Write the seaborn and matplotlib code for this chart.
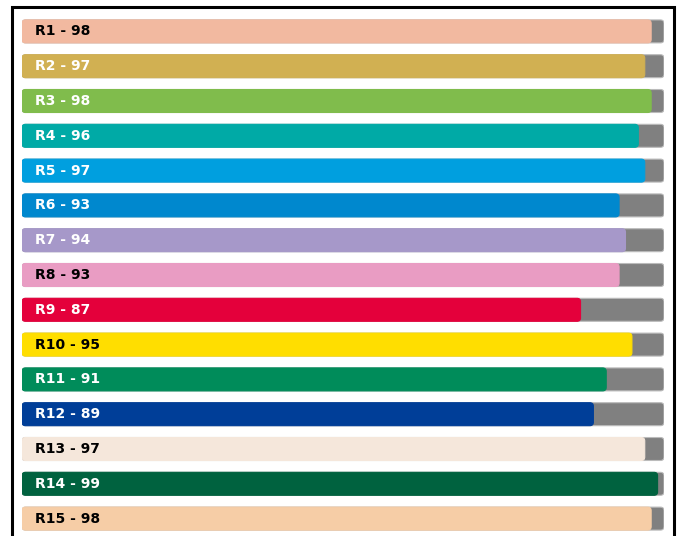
import matplotlib
matplotlib.use("Agg")
import matplotlib.pyplot as plt
from matplotlib.patches import FancyBboxPatch, Rectangle
import seaborn as sns
import pandas as pd

# data
regions = ['R1', 'R2', 'R3', 'R4', 'R5', 'R6', 'R7', 'R8', 'R9', 'R10',
           'R11', 'R12', 'R13', 'R14', 'R15']
scores = [98, 97, 98, 96, 97, 93, 94, 93, 87, 95, 91, 89, 97, 99, 98]
full = [100] * len(regions)
bar_colors = ['#F2B9A0', '#D1B052', '#80BC4C', '#00AAA6', '#009FDF', '#0088CE',
              '#A698C9', '#E99CC3', '#E4003B', '#FFDE00', '#008C5A', '#003E98',
              '#F5E7DB', '#00623F', '#F6CDA6']
text_colors = ['black', 'white', 'white', 'white', 'white', 'white', 'white',
               'black', 'white', 'black', 'white', 'white', 'black', 'white', 'black']

df = pd.DataFrame({'region': regions, 'score': scores, 'full': full})

sns.set_style('white')
fig = plt.figure(figsize=(6.83, 5.36), dpi=100)
ax = fig.add_axes([22 / 683, 0, (664 - 22) / 683, 1 - 14 / 536])

# background (gray) bars then coloured bars
sns.barplot(data=df, x='full', y='region', color='#808080', width=0.66,
            saturation=1, orient='h', ax=ax)
n_bg = len(ax.patches)
sns.barplot(data=df, x='score', y='region', hue='region', palette=bar_colors,
            width=0.66, saturation=1, orient='h', legend=False, ax=ax)

# replace rectangles by rounded boxes
rx = 0.55
ry = 0.1
for i, p in enumerate(list(ax.patches)):
    x0, y0 = p.get_x(), p.get_y()
    w, h = p.get_width(), p.get_height()
    fc = p.get_facecolor()
    p.remove()
    edge = '#BBBBBB' if i < n_bg else fc
    box = FancyBboxPatch((x0, y0), w, h,
                         boxstyle=f'round,pad=0,rounding_size={rx}',
                         mutation_aspect=ry / rx, facecolor=fc,
                         edgecolor=edge, linewidth=0.8,
                         zorder=2 if i < n_bg else 3)
    ax.add_patch(box)

for i, (r, s) in enumerate(zip(regions, scores)):
    ax.text(2, i, f'{r} - {s}', color=text_colors[i], fontsize=10,
            fontweight='bold', va='center', ha='left', zorder=4,
            family=['DejaVu Sans'])

ax.set_xlim(0, 100)
ax.set_ylim(len(regions) - 0.5, -0.5)
ax.set_xlabel('')
ax.set_ylabel('')
ax.set_xticks([])
ax.set_yticks([])
for sp in ax.spines.values():
    sp.set_visible(False)

# frame around the chart
fig.patches.append(Rectangle((12 / 683, -0.05), (674 - 12) / 683, 1.05 - 7 / 536,
                             transform=fig.transFigure, fill=False,
                             edgecolor='black', linewidth=2.2, zorder=10))

fig.savefig('out.png', dpi=100)
